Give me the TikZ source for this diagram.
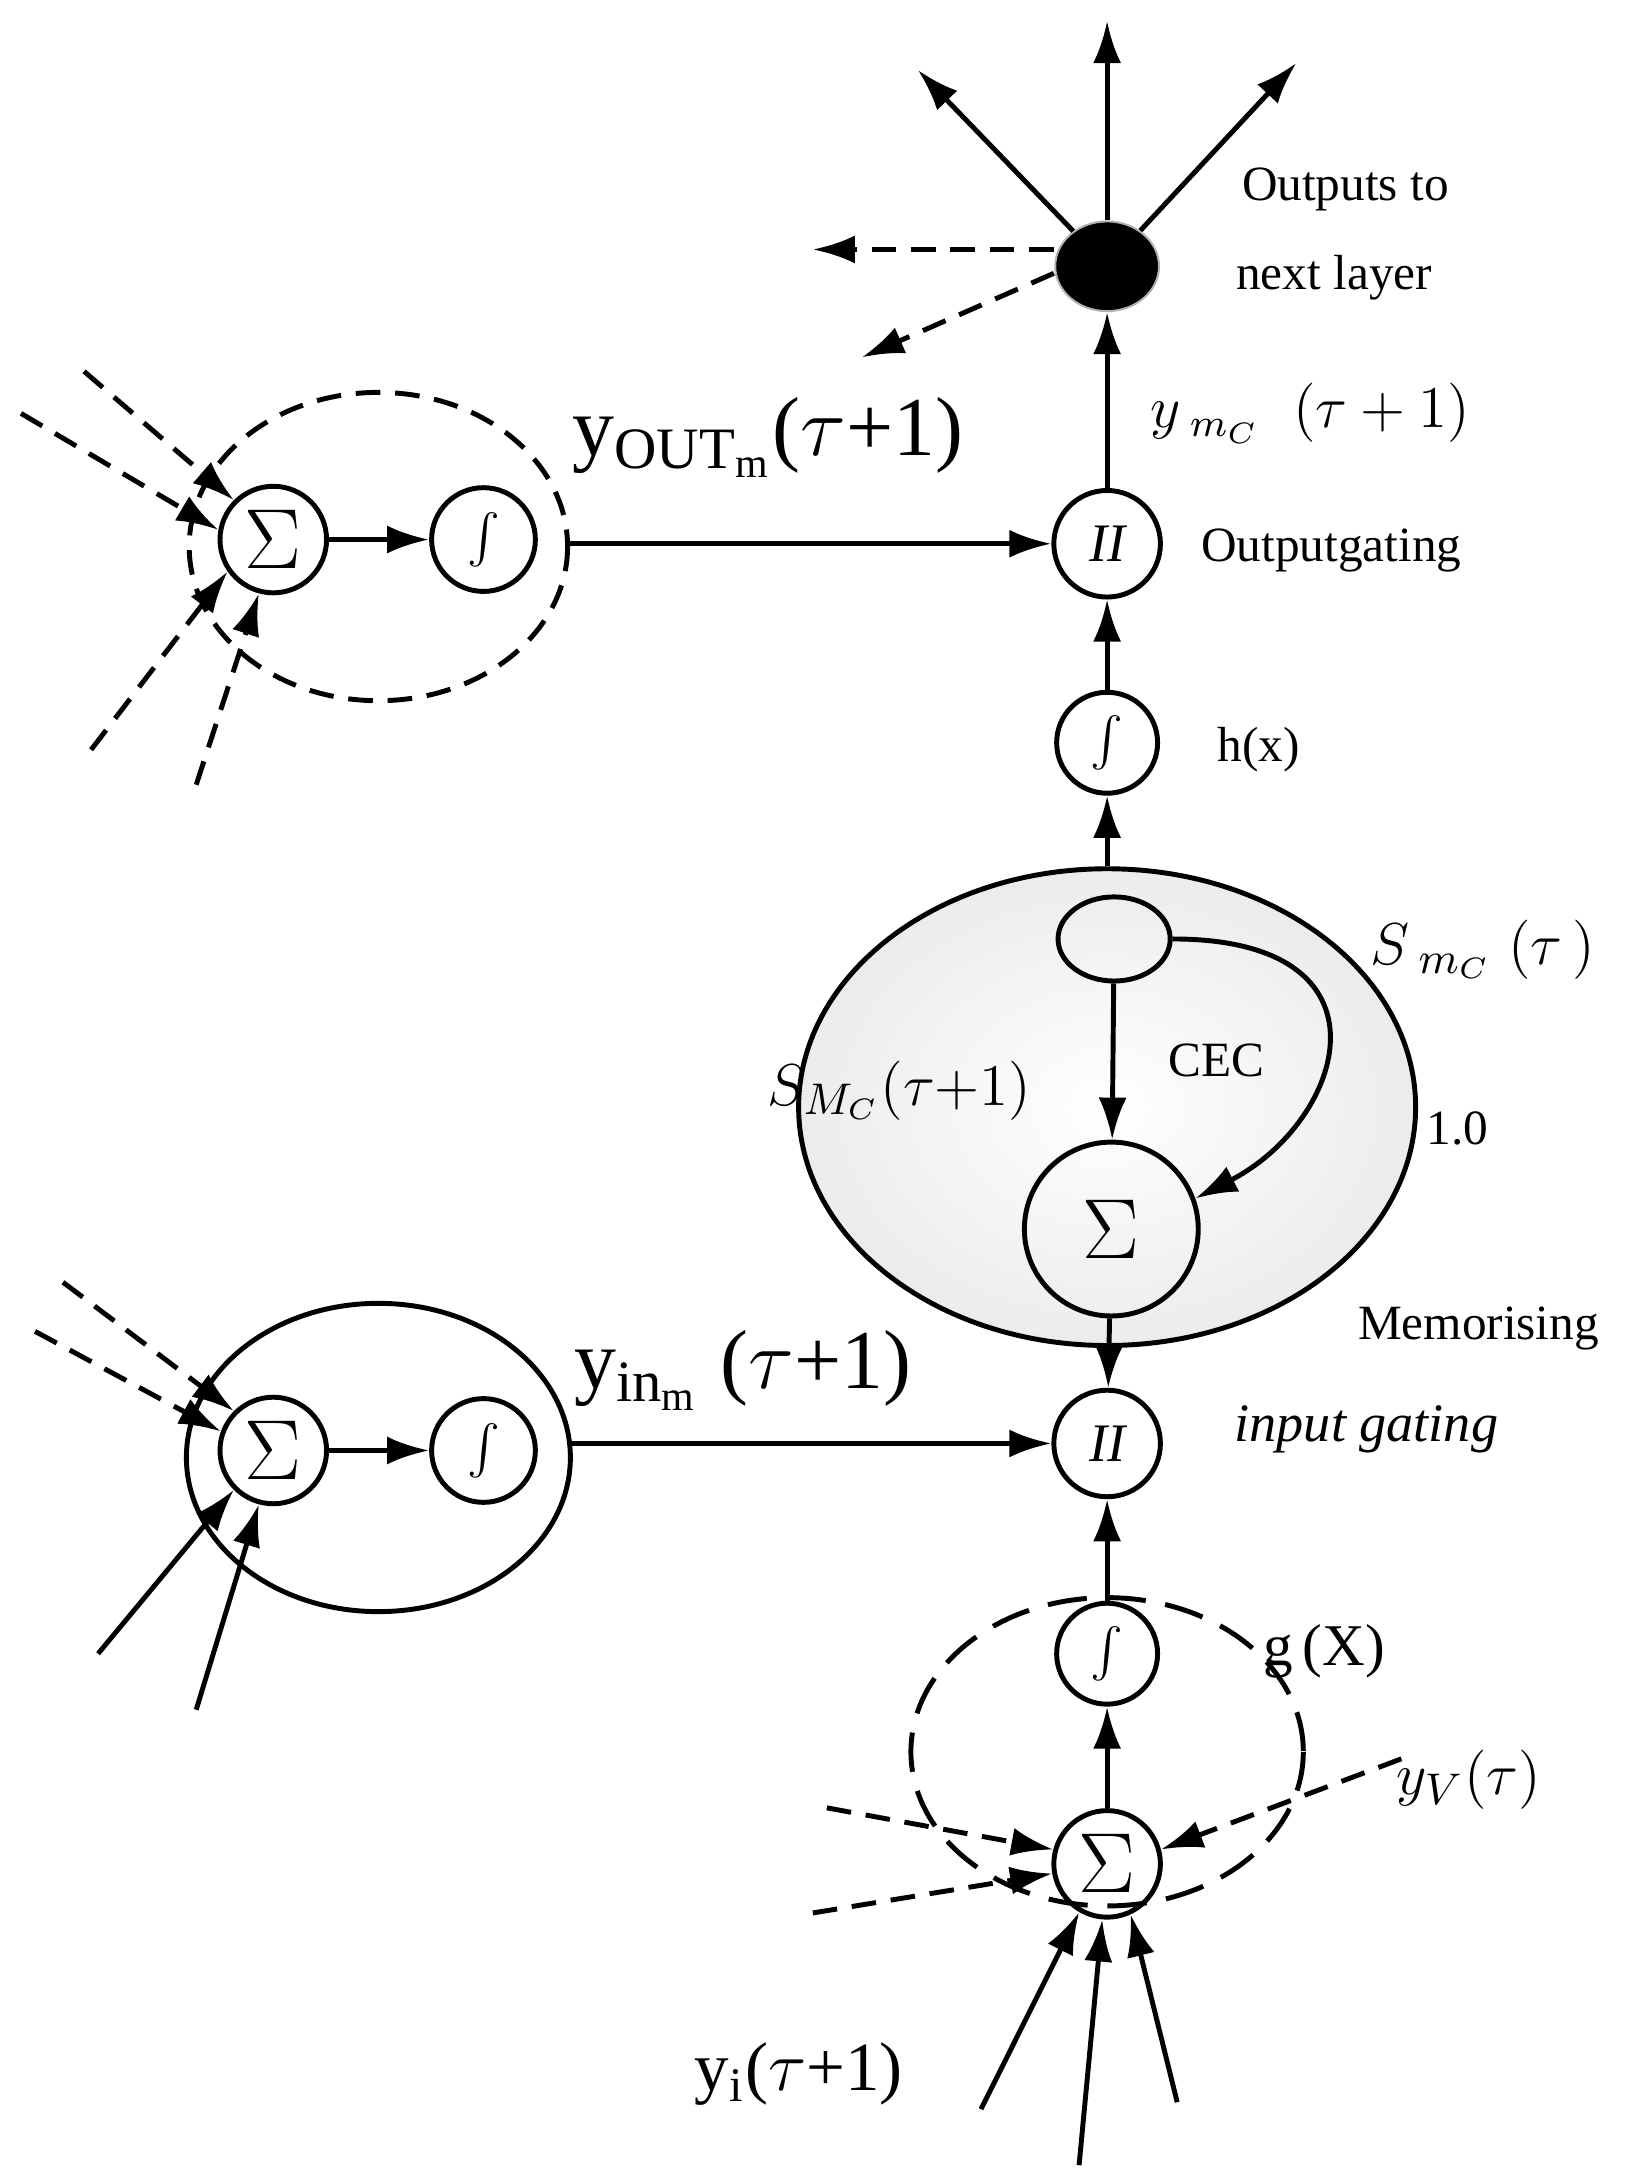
\documentclass[tikz,border=0pt]{standalone}
\usepackage{fontspec}
\setmainfont{Liberation Serif}
\usetikzlibrary{arrows.meta, positioning, shapes.geometric}

\tikzset{
	cir/.style = {circle, draw, line width=1pt, inner sep=0pt, minimum size=0.76cm, font=\fontsize{11}{11}\selectfont},
	arr/.style = {line width=1pt, -{Latex[length=0.3cm, width=0.2cm]}},
	dsh/.style = {arr, dashed, dash pattern=on 5pt off 3pt},
	lbl/.style = {font=\fontsize{10}{12}\selectfont}
}

\begin{document}
\begin{tikzpicture}[x=0.01cm, y=-0.01cm]
				\useasboundingbox (0, 0) rectangle (1160, 1557);

				% output part
				\node[ellipse, fill=black, draw=gray!60, minimum width=0.74cm, minimum height=0.64cm] (dot) at (790, 190) {};
				\coordinate (o1) at (790, 15);
				\coordinate (o2) at (655, 50);
				\coordinate (o3) at (925, 45);
				\coordinate (o4) at (580, 178);
				\coordinate (o5) at (615, 255);
				\draw[arr] (dot) -- (o1);
				\draw[arr] (dot) -- (o2);
				\draw[arr] (dot) -- (o3);
				\draw[dsh] (752, 178) -- (o4);
				\draw[dsh] (752, 195) -- (o5);
				\node[lbl] at (960, 135) {Outputs to};
				\node[lbl] at (952, 198) {next layer};
				\node[lbl, font=\fontsize{12}{12}\selectfont] at (935, 295) {$y_{\;m_C}\;\;(\tau+1)$};

				\node[cir] (pout) at (790, 388) {$\mathit{II}$};
				\node[lbl] at (950, 393) {Outputgating};
				\draw[arr] (pout) -- (dot);

				\node[cir, minimum size=0.72cm] (hx) at (790, 530) {$\int$};
				\node[lbl] at (898, 535) {h(x)};
				\draw[arr] (hx) -- (pout);

				% memory cell
				\node[ellipse, draw, line width=1pt, inner color=white, outer color=gray!15, minimum width=4.4cm, minimum height=3.4cm] (cell) at (790, 790) {};
				\node[ellipse, draw, line width=1pt, minimum width=0.8cm, minimum height=0.6cm] (cec) at (795, 670) {};
				\node[cir, minimum size=1.24cm, font=\fontsize{19}{19}\selectfont] (sum) at (793, 877) {$\Sigma$};
				\draw[arr] (cec) -- (sum);
				\draw[arr] (cec.east) .. controls (1000, 670) and (960, 800) .. (sum.20);
				\node[lbl] at (868, 757) {CEC};
				\node[font=\fontsize{13}{13}\selectfont] at (642, 778) {$S_{M_C}(\tau{+}1)$};
				\node[font=\fontsize{13}{13}\selectfont] at (1058, 678) {$S_{\;m_C}\;(\tau\,)$};
				\node[lbl] at (1040, 805) {1.0};
				\node[lbl] at (1055, 948) {Memorising};
				\draw[arr] (cell.north) -- (hx);

				% input gate
				\node[cir] (pin) at (790, 1030) {$\mathit{II}$};
				\node[lbl, font=\itshape\fontsize{11}{13}\selectfont] at (975, 1020) {input gating};
				\draw[arr] (sum) -- (pin);

				\node[cir, minimum size=0.72cm] (gx) at (790, 1180) {$\int$};
				\node[font=\fontsize{12}{12}\selectfont] at (945, 1178) {g\,(X)};
				\draw[arr] (gx) -- (pin);

				\draw[line width=1pt, dashed, dash pattern=on 8pt off 4pt] (790, 1250) ellipse (140 and 110);
				\node[cir, font=\fontsize{16}{16}\selectfont] (sin) at (790, 1330) {$\Sigma$};
				\draw[arr] (sin) -- (gx);
				\coordinate (d1) at (590, 1290);
				\coordinate (d2) at (580, 1365);
				\coordinate (d3) at (1000, 1255);
				\draw[dsh] (d1) -- (sin.165);
				\draw[dsh] (d2) -- (sin.190);
				\draw[dsh] (d3) -- (sin.15);
				\node[font=\fontsize{13}{13}\selectfont] at (1048, 1270) {$y_V(\tau)$};
				\coordinate (s1) at (700, 1505);
				\coordinate (s2) at (770, 1545);
				\coordinate (s3) at (840, 1500);
				\draw[arr] (s1) -- (sin.240);
				\draw[arr] (s2) -- (sin.265);
				\draw[arr] (s3) -- (sin.295);
				\node[font=\fontsize{14}{14}\selectfont] at (570, 1480) {y$_\mathrm{i}$($\tau$+1)};

				% output gate unit
				\draw[line width=1pt, dashed, dash pattern=on 5pt off 3pt] (270, 390) ellipse (135 and 110);
				\node[cir, font=\fontsize{16}{16}\selectfont] (sa) at (195, 385) {$\Sigma$};
				\node[cir, minimum size=0.74cm] (fa) at (345, 385) {$\int$};
				\draw[arr] (sa) -- (fa);
				\coordinate (a1) at (15, 295);
				\coordinate (a2) at (60, 265);
				\coordinate (a3) at (65, 535);
				\coordinate (a4) at (140, 560);
				\draw[dsh] (a1) -- (sa.170);
				\draw[dsh] (a2) -- (sa.135);
				\draw[dsh] (a3) -- (sa.215);
				\draw[dsh] (a4) -- (sa.255);
				\coordinate (ea) at (405, 388);
				\draw[arr] (ea) -- (pout);
				\node[font=\fontsize{17}{17}\selectfont] at (548, 312) {y$_{\mathrm{OUT_m}}$($\tau$+1)};

				% input gate unit
				\draw[line width=1pt] (270, 1040) ellipse (137 and 110);
				\node[cir, font=\fontsize{16}{16}\selectfont] (sb) at (195, 1035) {$\Sigma$};
				\node[cir, minimum size=0.74cm] (fb) at (345, 1035) {$\int$};
				\draw[arr] (sb) -- (fb);
				\coordinate (b1) at (25, 950);
				\coordinate (b2) at (45, 915);
				\coordinate (b3) at (70, 1180);
				\coordinate (b4) at (140, 1220);
				\draw[dsh] (b1) -- (sb.160);
				\draw[dsh] (b2) -- (sb.135);
				\draw[arr] (b3) -- (sb.225);
				\draw[arr] (b4) -- (sb.255);
				\coordinate (eb) at (407, 1030);
				\draw[arr] (eb) -- (pin);
				\node[font=\fontsize{17}{17}\selectfont] at (530, 978) {y$_{\mathrm{in_m}}$\ ($\tau$+1)};
			\end{tikzpicture}
\end{document}
